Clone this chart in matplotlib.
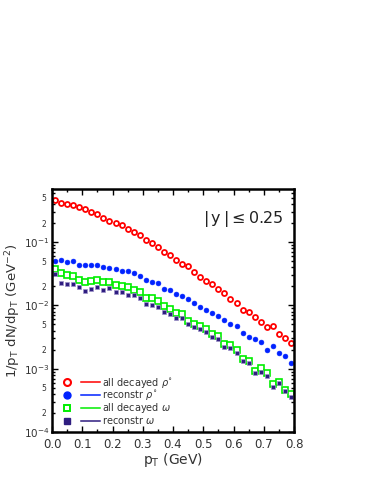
import matplotlib
matplotlib.use("Agg")
import matplotlib.pyplot as plt
import numpy as np
from matplotlib.lines import Line2D
from matplotlib.legend_handler import HandlerTuple
from matplotlib.ticker import FixedLocator, FuncFormatter, MultipleLocator

pt = [0.01, 0.03, 0.05, 0.07, 0.09, 0.11, 0.13, 0.15, 0.17, 0.19,
      0.21, 0.23, 0.25, 0.27, 0.29, 0.31, 0.33, 0.35, 0.37, 0.39,
      0.41, 0.43, 0.45, 0.47, 0.49, 0.51, 0.53, 0.55, 0.57, 0.59,
      0.61, 0.63, 0.65, 0.67, 0.69, 0.71, 0.73, 0.75, 0.77, 0.79]

rho_all = [0.46, 0.413, 0.394, 0.379, 0.361, 0.328, 0.294, 0.277, 0.242, 0.215,
           0.200, 0.185, 0.160, 0.146, 0.129, 0.109, 0.0965, 0.0844, 0.0703, 0.0624,
           0.052, 0.045, 0.0418, 0.034, 0.0284, 0.0245, 0.0215, 0.0181, 0.0155, 0.0127,
           0.0110, 0.00833, 0.00775, 0.00654, 0.00552, 0.0045, 0.00472, 0.00349, 0.00308, 0.00257]

rho_rec = [0.0501, 0.052, 0.0483, 0.0495, 0.0439, 0.0434, 0.0434, 0.0439, 0.0398, 0.0394,
           0.0375, 0.0353, 0.0344, 0.0324, 0.0294, 0.0254, 0.0231, 0.0222, 0.0181, 0.0176,
           0.0151, 0.0142, 0.0127, 0.0111, 0.0093, 0.00843, 0.00756, 0.00687, 0.00587, 0.00514,
           0.00466, 0.00361, 0.00316, 0.00298, 0.0026, 0.00197, 0.00231, 0.00175, 0.00158, 0.00123]

omega_all = [0.0375, 0.032, 0.0298, 0.029, 0.0254, 0.0236, 0.0242, 0.0254, 0.0231, 0.0234,
             0.0207, 0.0200, 0.0192, 0.0177, 0.0164, 0.0130, 0.0129, 0.0116, 0.00976, 0.0087,
             0.00756, 0.00738, 0.00573, 0.00514, 0.00472, 0.00428, 0.00357, 0.00324, 0.00242, 0.00233,
             0.00195, 0.00142, 0.00134, 0.000918, 0.00104, 0.000844, 0.000573, 0.000615, 0.000455, 0.000403]

omega_rec = [0.0308, 0.0225, 0.0215, 0.0217, 0.0195, 0.0171, 0.0179, 0.0192, 0.0173, 0.0186,
             0.0162, 0.0161, 0.0146, 0.0146, 0.0132, 0.0104, 0.0100, 0.0094, 0.00795, 0.0072,
             0.00624, 0.00624, 0.00501, 0.0045, 0.00418, 0.00384, 0.00316, 0.0029, 0.00222, 0.00215,
             0.00179, 0.00131, 0.00121, 0.000843, 0.000897, 0.000766, 0.00052, 0.000587, 0.000439, 0.000361]

labels = [r"all decayed $\rho^{\circ}$", r"reconstr $\rho^{\circ}$",
          r"all decayed $\omega$", r"reconstr $\omega$"]
x_ticks = [0.0, 0.1, 0.2, 0.3, 0.4, 0.5, 0.6, 0.7, 0.8]

fig = plt.figure(figsize=(3.74, 4.84), dpi=100)
ax = fig.add_axes([52/374, 1-432/484, (294-52)/374, (432-189)/484])

red = "#ff0000"; blue = "#0022ff"; green = "#00ee00"; navy = "#2f1d80"

ax.plot(pt, rho_all, 'o', ms=3.6, mfc='white', mec=red, mew=1.3, ls='none')
ax.plot(pt, rho_rec, 'o', ms=3.5, mfc=blue, mec=blue, mew=0.4, ls='none')
ax.plot(pt, omega_all, 's', ms=3.9, mfc='white', mec=green, mew=1.2, ls='none')
ax.plot(pt, omega_rec, 's', ms=3.5, mfc=navy, mec='#9d92c8', mew=0.5, ls='none')

ax.set_yscale('log')
ax.set_xlim(0.0, 0.8)
ax.set_ylim(1e-4, 0.69)

ax.xaxis.set_major_locator(FixedLocator(x_ticks))
ax.xaxis.set_minor_locator(MultipleLocator(0.05))
ax.xaxis.set_major_formatter(FuncFormatter(lambda v, p: f"{v:.1f}"))

majors = [1e-4, 1e-3, 1e-2, 1e-1]
ax.yaxis.set_major_locator(FixedLocator(majors))
ax.yaxis.set_major_formatter(FuncFormatter(lambda v, p: r"$10^{%d}$" % int(round(np.log10(v)))))
minors = [m * 10.0**e for e in range(-4, 0) for m in range(2, 10)]
ax.yaxis.set_minor_locator(FixedLocator(minors))
def minor_fmt(v, p):
    m = v / 10.0**np.floor(np.log10(v) + 1e-9)
    r = int(round(m))
    return str(r) if r in (2, 5) else ""
ax.yaxis.set_minor_formatter(FuncFormatter(minor_fmt))

tc = "#333333"
ax.tick_params(which='both', direction='in', top=True, right=True, colors='black',
               labelcolor=tc, width=1.0)
ax.tick_params(which='major', length=4.5)
ax.tick_params(axis='x', which='major', labelsize=8.5, pad=4)
ax.tick_params(axis='y', which='major', labelsize=7.5, pad=2)
ax.tick_params(axis='y', which='minor', length=2.5, labelsize=5.5, pad=4)
ax.tick_params(axis='x', which='minor', length=2.5)
for s in ax.spines.values():
    s.set_linewidth(1.8)

ax.set_xlabel(r"p$_\mathrm{T}$ (GeV)", fontsize=10, color=tc, labelpad=0)
ax.set_ylabel(r"1/p$_\mathrm{T}$ dN/dp$_\mathrm{T}$ (GeV$^{-2}$)", fontsize=9.5, color=tc)
ax.yaxis.set_label_coords(-0.12, 0.5)

ax.text(0.955, 0.875, r"$|\,$y$\,|\leq$0.25", transform=ax.transAxes, ha='right', va='center',
        fontsize=11.5, color='#222222')

h = [
    (Line2D([], [], marker='o', ms=5, mfc='white', mec=red, mew=1.5, ls='none'),
     Line2D([], [], color=red, lw=1.1)),
    (Line2D([], [], marker='o', ms=5, mfc=blue, mec=blue, ls='none'),
     Line2D([], [], color=blue, lw=1.1)),
    (Line2D([], [], marker='s', ms=5, mfc='white', mec=green, mew=1.4, ls='none'),
     Line2D([], [], color=green, lw=1.1)),
    (Line2D([], [], marker='s', ms=5, mfc=navy, mec=navy, ls='none'),
     Line2D([], [], color=navy, lw=1.1)),
]
leg = ax.legend(h, labels, handler_map={tuple: HandlerTuple(ndivide=None, pad=0.5)},
                loc='lower left', bbox_to_anchor=(0.0, 0.0), frameon=False,
                fontsize=7, handlelength=4.3, handletextpad=0.25, labelspacing=-0.12,
                borderaxespad=0.25, borderpad=0.35, labelcolor=tc)

fig.savefig("out.png", dpi=100)
